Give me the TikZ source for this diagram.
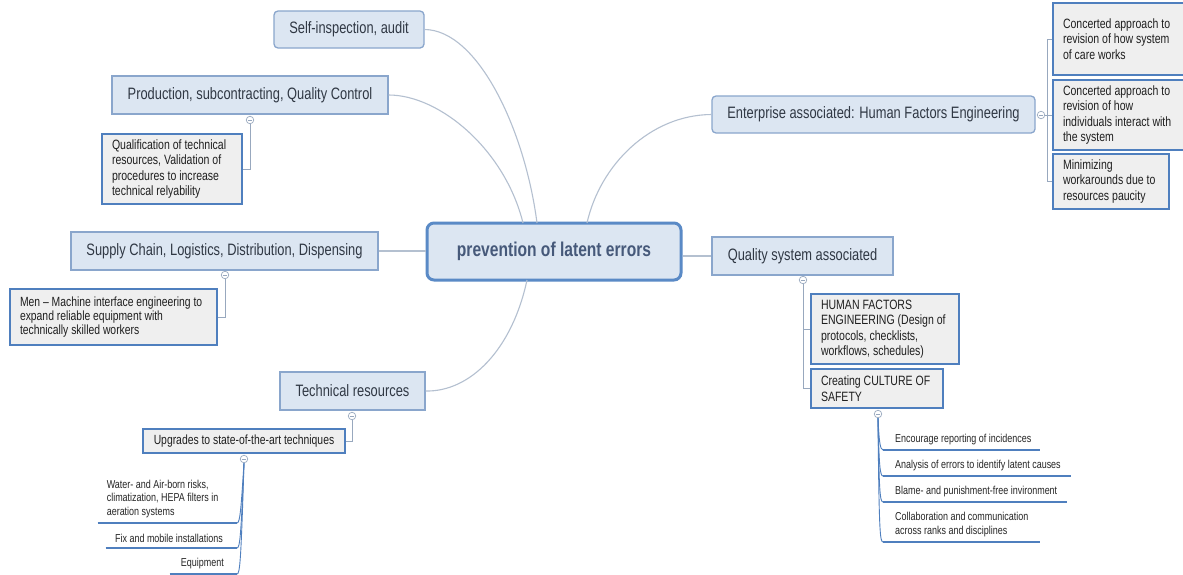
\documentclass[tikz,border=0pt]{standalone}
\usepackage{fontspec}
\setmainfont{Liberation Sans}[FakeStretch=0.78]
\definecolor{lbfill}{HTML}{DCE6F2}
\definecolor{lbdraw}{HTML}{8AA6CC}
\definecolor{cdraw}{HTML}{5A8AC6}
\definecolor{dfill}{HTML}{EFEFEF}
\definecolor{ddraw}{HTML}{4F7FBE}
\definecolor{conn}{HTML}{B4C0D0}
\definecolor{brk}{HTML}{98A8BE}
\definecolor{txt}{HTML}{303844}
\definecolor{ctxt}{HTML}{46597A}
\definecolor{leafc}{HTML}{4F7FBE}
\begin{document}
\begin{tikzpicture}[x=1pt,y=-1pt,
  lone/.style={draw=lbdraw, fill=lbfill, line width=1.3pt, font=\fontsize{16.5pt}{19pt}\selectfont, text=txt, inner sep=0pt},
  loner/.style={lone, rounded corners=4pt},
  det/.style={draw=ddraw, fill=dfill, line width=1.8pt, font=\fontsize{13.5pt}{15.5pt}\selectfont, text=black!88, align=flush left, inner xsep=10pt, inner ysep=0pt},
  circ/.style={circle, draw=brk, fill=white, line width=0.7pt, minimum size=7.5pt, inner sep=0pt,
    path picture={\draw[brk, line width=0.6pt] ([xshift=1.6pt]path picture bounding box.west) -- ([xshift=-1.6pt]path picture bounding box.east);}},
  conline/.style={draw=conn, line width=1.1pt},
  brline/.style={draw=brk, line width=0.9pt},
  leaf/.style={font=\fontsize{11.5pt}{13.5pt}\selectfont, text=black!85, inner xsep=0pt, inner ysep=5pt},
  leafline/.style={draw=leafc, line width=1.5pt},
  leafcurve/.style={draw=leafc, line width=0.9pt}
]
\useasboundingbox (0,0) rectangle (1183,574);
\fill[white] (0,0) rectangle (1183,574);

% central node
\node[draw=cdraw, fill=lbfill, line width=3pt, rounded corners=7pt, minimum width=254pt, minimum height=57pt,
  font=\fontsize{20pt}{23pt}\selectfont\bfseries, text=ctxt, inner sep=0pt] (center) at (554,251.5) {prevention of latent errors};
\coordinate (cS) at (537,223);
\coordinate (cP) at (523,223);
\coordinate (cE) at (587,223);
\coordinate (cT) at (527,280);

% level-1 nodes
\node[loner, minimum width=150pt, minimum height=37pt] (self) at (349,29.5) {Self-inspection, audit};
\node[lone, minimum width=276pt, minimum height=38pt] (prod) at (250,95) {Production, subcontracting, Quality Control};
\node[loner, minimum width=323pt, minimum height=37pt] (ent) at (873.5,114.5) {Enterprise associated: Human Factors Engineering};
\node[lone, minimum width=307pt, minimum height=38pt] (supply) at (224.5,251) {Supply Chain, Logistics, Distribution, Dispensing};
\node[lone, minimum width=181pt, minimum height=38pt] (qs) at (802.5,256) {Quality system associated};
\node[lone, minimum width=145pt, minimum height=38pt] (tech) at (352.5,391) {Technical resources};

% main connectors
\draw[conline] (self.east) .. controls (478,30) and (525,130) .. (cS);
\draw[conline] (prod.east) .. controls (440,95) and (505,150) .. (cP);
\draw[conline] (ent.west) .. controls (650,115) and (600,165) .. (cE);
\draw[conline] (supply.east) -- (supply.east -| center.west);
\draw[conline] (center.east |- qs.west) -- (qs.west);
\draw[conline] (cT) .. controls (512,350) and (470,392) .. (tech.east);

% detail boxes
\node[det, minimum height=70pt, text width=120pt] (qual) at (172,169) {Qualification of technical\\resources, Validation of\\procedures to increase\\technical relyability};
\node[det, minimum height=72pt, text width=113pt] (c1) at (1119.5,39) {Concerted approach to\\revision of how system\\of care works};
\node[det, minimum height=70pt, text width=113pt] (c2) at (1119.5,115) {Concerted approach to\\revision of how\\individuals interact with\\the system};
\node[det, minimum height=55pt, text width=96pt] (c3) at (1111,181.5) {Minimizing\\workarounds due to\\resources paucity};
\node[det, minimum height=56pt, text width=187pt, font=\fontsize{13.3pt}{14pt}\selectfont] (men) at (113.5,317) {Men -- Machine interface engineering to\\expand reliable equipment with\\technically skilled workers};
\node[det, minimum height=24pt, text width=182pt, align=flush center, font=\fontsize{13.3pt}{15pt}\selectfont] (upg) at (244,441) {Upgrades to state-of-the-art techniques};
\node[det, minimum height=70pt, text width=128pt] (hfe) at (885,329) {HUMAN FACTORS\\ENGINEERING (Design of\\protocols, checklists,\\workflows, schedules)};
\node[det, minimum height=39pt, text width=112pt] (cul) at (877,388.5) {Creating CULTURE OF\\SAFETY};

% collapse circles
\node[circ] (pc) at (250,120) {};
\node[circ] (ec) at (1041,115) {};
\node[circ] (sc) at (225,275) {};
\node[circ] (tc) at (352,416) {};
\node[circ] (uc) at (244,459) {};
\node[circ] (qc) at (803,280) {};
\node[circ] (cc) at (878,414) {};
\coordinate (eb) at (1047,115);

% bracket connectors
\draw[brline] (pc.south) |- (qual.east);
\draw[brline] (sc.south) |- (men.east);
\draw[brline] (tc.south) |- (upg.east);
\draw[brline] (ec.east) -- (c2.west);
\draw[brline] (c1.west) -- (c1.west -| eb) -- (c3.west -| eb) -- (c3.west);
\draw[brline] (qc.south) |- (cul.west);
\draw[brline] (hfe.west -| qc) -- (hfe.west);

% culture leaves
\node[leaf, anchor=south west, text width=157pt, align=flush left] (lf1) at (883,450) {\hspace*{12pt}Encourage reporting of incidences};
\node[leaf, anchor=south west, text width=188pt, align=flush left] (lf2) at (883,476) {\hspace*{12pt}Analysis of errors to identify latent causes};
\node[leaf, anchor=south west, text width=184pt, align=flush left] (lf3) at (883,502) {\hspace*{12pt}Blame- and punishment-free invironment};
\node[leaf, anchor=south west, text width=157pt, align=flush left] (lf4) at (883,542) {\hspace*{12pt}Collaboration and communication\\\hspace*{12pt}across ranks and disciplines};
\draw[leafcurve] (cc.south) .. controls (879,440) and (880,450) .. (lf1.south west);
\draw[leafcurve] (cc.south) .. controls (879,466) and (880,476) .. (lf2.south west);
\draw[leafcurve] (cc.south) .. controls (879,492) and (880,502) .. (lf3.south west);
\draw[leafcurve] (cc.south) .. controls (879,532) and (880,542) .. (lf4.south west);
\draw[leafline] (lf1.south west) -- (lf1.south east);
\draw[leafline] (lf2.south west) -- (lf2.south east);
\draw[leafline] (lf3.south west) -- (lf3.south east);
\draw[leafline] (lf4.south west) -- (lf4.south east);

% technical leaves
\node[leaf, anchor=south east, text width=139pt, align=flush left] (lw) at (237,523) {\hspace*{9pt}Water- and Air-born risks,\\\hspace*{9pt}climatization, HEPA filters in\\\hspace*{9pt}aeration systems};
\node[leaf, anchor=south east, text width=131pt, align=flush right] (lx) at (237,548) {Fix and mobile installations\hspace*{14pt}};
\node[leaf, anchor=south east, text width=67pt, align=flush right] (le) at (237,574) {Equipment\hspace*{13pt}};
\draw[leafcurve] (uc.south) .. controls (241,510) and (240,523) .. (lw.south east);
\draw[leafcurve] (uc.south) .. controls (241,535) and (240,548) .. (lx.south east);
\draw[leafcurve] (uc.south) .. controls (241,560) and (240,574) .. (le.south east);
\draw[leafline] (lw.south west) -- (lw.south east);
\draw[leafline] (lx.south west) -- (lx.south east);
\draw[leafline] (le.south west) -- (le.south east);
\end{tikzpicture}
\end{document}
